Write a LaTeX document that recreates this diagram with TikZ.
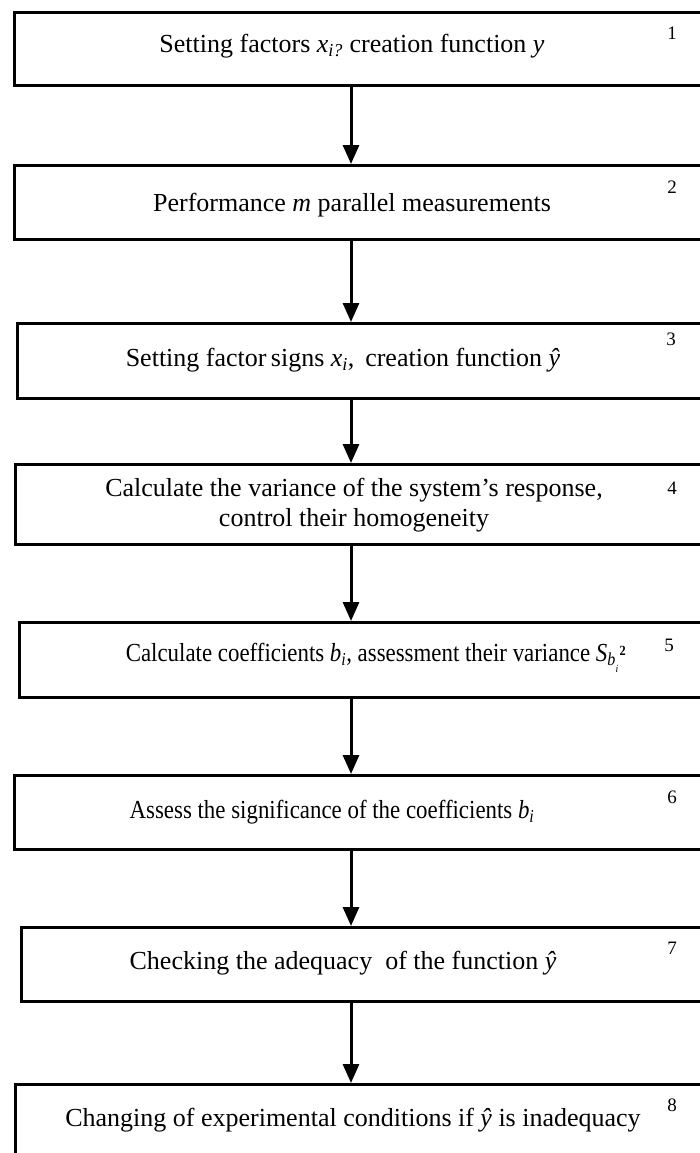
\documentclass[tikz,border=0pt]{standalone}
\usepackage{fontspec}
\usepackage{graphicx}
\setmainfont{Liberation Serif}
\usetikzlibrary{arrows.meta}
\newcommand\iv[1]{\textit{#1}}
\newcommand\ivs[2]{\textit{#1}\textsubscript{\textit{#2}}}
\newcommand\narrow[1]{\scalebox{0.88}[1]{#1}}
\begin{document}
\begin{tikzpicture}[x=1pt,y=-1pt,
  box/.style={draw, line width=3pt, anchor=north west, inner sep=0pt, fill=none},
  txt/.style={font=\fontsize{26}{30}\selectfont, align=center, inner sep=0pt},
  num/.style={font=\fontsize{19}{22}\selectfont, inner sep=0pt},
  arr/.style={line width=3pt, -{Triangle[length=19pt,width=16pt]}}]
\useasboundingbox (0,0) rectangle (700,1153);
\clip (0,0) rectangle (700,1153);
\coordinate (ax) at (351,0);
% boxes
\node[box, minimum width=707pt, minimum height=73pt] (b1) at (13,11) {};
\node[box, minimum width=707pt, minimum height=74pt] (b2) at (13,164) {};
\node[box, minimum width=704pt, minimum height=75pt] (b3) at (16,322) {};
\node[box, minimum width=706pt, minimum height=80pt] (b4) at (14,463) {};
\node[box, minimum width=702pt, minimum height=75pt] (b5) at (18,621) {};
\node[box, minimum width=707pt, minimum height=74pt] (b6) at (13,774) {};
\node[box, minimum width=700pt, minimum height=74pt] (b7) at (20,926) {};
\node[box, minimum width=706pt, minimum height=110pt] (b8) at (14,1083) {};
% texts
\node[txt] (t1) at (352,46) {Setting factors \ivs{x}{i?} creation function \iv{y}};
\node[txt] (t2) at (352,205) {Performance \iv{m} parallel measurements};
\node[txt] (t3) at (343,360) {Setting factor\,signs \ivs{x}{i},\, creation function \iv{ŷ}};
\node[txt] (t4) at (354,505) {Calculate the variance of the system’s response,\\control their homogeneity};
\node[txt] (t5) at (372,658) {\narrow{Calculate coefficients \ivs{b}{i}, assessment their variance \iv{S}\textsubscript{\iv{b}}\,\raisebox{0.55ex}{\fontsize{14}{14}\selectfont\bfseries 2}\hspace{-0.45em}\raisebox{-0.9ex}{\fontsize{11}{11}\selectfont\iv{i}}}};
\node[txt] (t6) at (332,812) {\narrow{Assess the significance of the coefficients \ivs{b}{i}}};
\node[txt] (t7) at (343,963) {Checking the adequacy~ of the function \iv{ŷ}};
\node[txt] (t8) at (353,1120) {Changing of experimental conditions if \iv{ŷ} is inadequacy};
% numbers
\node[num] (n1) at (672,33) {1};
\node[num] (n2) at (672,187) {2};
\node[num] (n3) at (671,339) {3};
\node[num] (n4) at (672,488) {4};
\node[num] (n5) at (669,645) {5};
\node[num] (n6) at (672,797) {6};
\node[num] (n7) at (672,948) {7};
\node[num] (n8) at (672,1105) {8};
% arrows
\draw[arr] (b1.south -| ax) -- (b2.north -| ax);
\draw[arr] (b2.south -| ax) -- (b3.north -| ax);
\draw[arr] (b3.south -| ax) -- (b4.north -| ax);
\draw[arr] (b4.south -| ax) -- (b5.north -| ax);
\draw[arr] (b5.south -| ax) -- (b6.north -| ax);
\draw[arr] (b6.south -| ax) -- (b7.north -| ax);
\draw[arr] (b7.south -| ax) -- (b8.north -| ax);
\end{tikzpicture}
\end{document}
